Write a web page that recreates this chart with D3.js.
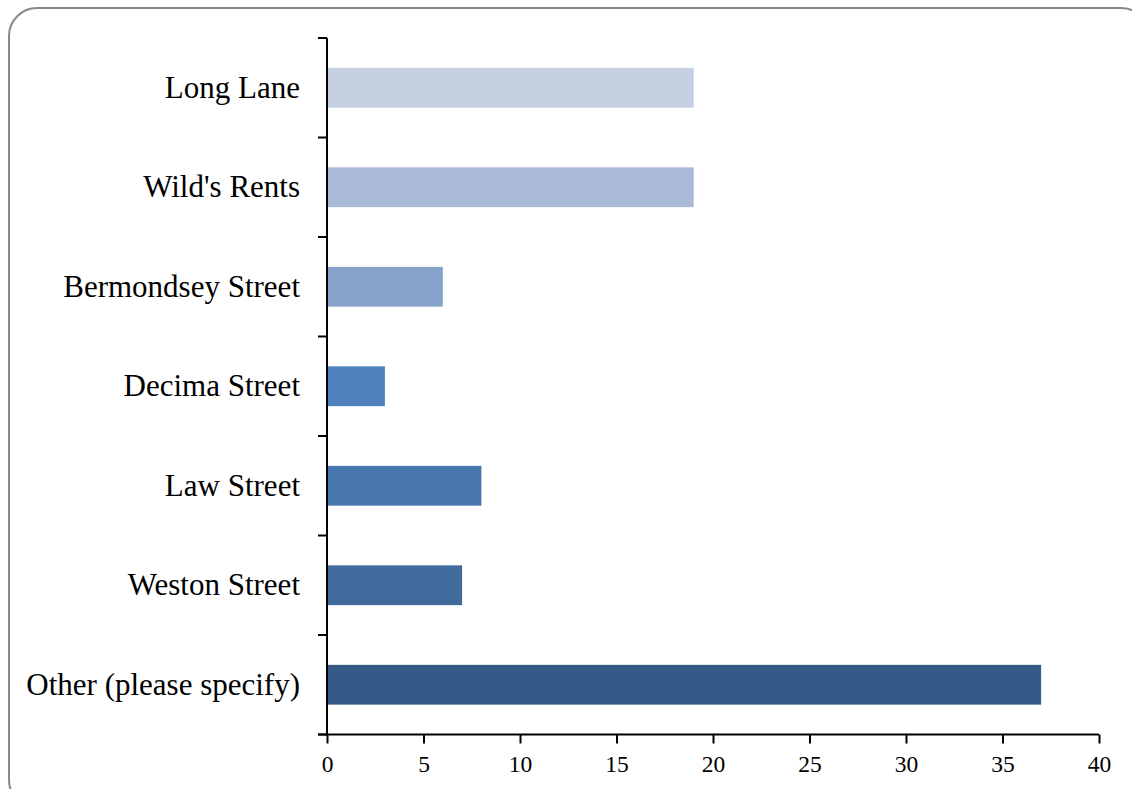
<!DOCTYPE html>
<html>
<head>
<meta charset="utf-8">
<script src="https://cdn.jsdelivr.net/npm/d3@7/dist/d3.min.js"></script>
<style>
  html, body { margin: 0; padding: 0; background: #fff; }
  svg { display: block; }
</style>
</head>
<body>
<script>
const categories = ["Long Lane", "Wild's Rents", "Bermondsey Street", "Decima Street", "Law Street", "Weston Street", "Other (please specify)"];
const values = [19, 19, 6, 3, 8, 7, 37];
const barColors = ["#C5D0E3", "#AAB9D7", "#87A2CB", "#4F81BD", "#4877B0", "#416B9D", "#365A87"];
const xTicks = [0, 5, 10, 15, 20, 25, 30, 35, 40];

(function () {
const W = 1132, H = 789;
const svg = d3.select("body").append("svg").attr("width", W).attr("height", H);

svg.append("rect")
  .attr("x", 9).attr("y", 8).attr("width", 1140).attr("height", 800)
  .attr("rx", 28).attr("ry", 28)
  .attr("fill", "#fff").attr("stroke", "#888").attr("stroke-width", 2);

const pLeft = 327, pRight = 1099, pTop = 38, pBottom = 734.5;

const x = d3.scaleLinear().domain([0, 40]).range([pLeft, pRight]);
const y = d3.scaleBand().domain(categories).range([pTop, pBottom]).paddingInner(0.6).paddingOuter(0.3);

const font = "'Liberation Serif', 'Times New Roman', serif";

svg.selectAll("rect.bar")
  .data(categories)
  .enter().append("rect")
  .attr("class", "bar")
  .attr("x", x(0))
  .attr("y", d => y(d))
  .attr("width", (d, i) => x(values[i]) - x(0))
  .attr("height", y.bandwidth())
  .attr("fill", (d, i) => barColors[i]);

const yAxisG = svg.append("g");
yAxisG.append("line")
  .attr("x1", pLeft).attr("x2", pLeft).attr("y1", pTop).attr("y2", pBottom)
  .attr("stroke", "#000").attr("stroke-width", 2);
const boundaries = d3.range(categories.length + 1).map(i => pTop + i * (pBottom - pTop) / categories.length);
yAxisG.selectAll("line.tick")
  .data(boundaries)
  .enter().append("line")
  .attr("class", "tick")
  .attr("x1", pLeft - 9).attr("x2", pLeft)
  .attr("y1", d => d).attr("y2", d => d)
  .attr("stroke", "#000").attr("stroke-width", 2);

yAxisG.selectAll("text")
  .data(categories)
  .enter().append("text")
  .attr("x", pLeft - 27)
  .attr("y", d => y(d) + y.bandwidth() / 2)
  .attr("dy", "0.33em")
  .attr("text-anchor", "end")
  .attr("font-family", font)
  .attr("font-size", 31)
  .attr("fill", "#000")
  .text(d => d);

const xAxis = d3.axisBottom(x).tickValues(xTicks).tickSize(9).tickSizeOuter(0).tickPadding(12);
const xg = svg.append("g").attr("transform", `translate(0,${pBottom})`).call(xAxis);
xg.select(".domain").attr("stroke", "#000").attr("stroke-width", 2)
  .attr("d", `M${pLeft - 9},0H${pRight}`);
xg.selectAll(".tick line").attr("stroke", "#000").attr("stroke-width", 2);
xg.selectAll(".tick text")
  .attr("font-family", font)
  .attr("font-size", 23.5)
  .attr("fill", "#000");
})();
</script>
</body>
</html>
